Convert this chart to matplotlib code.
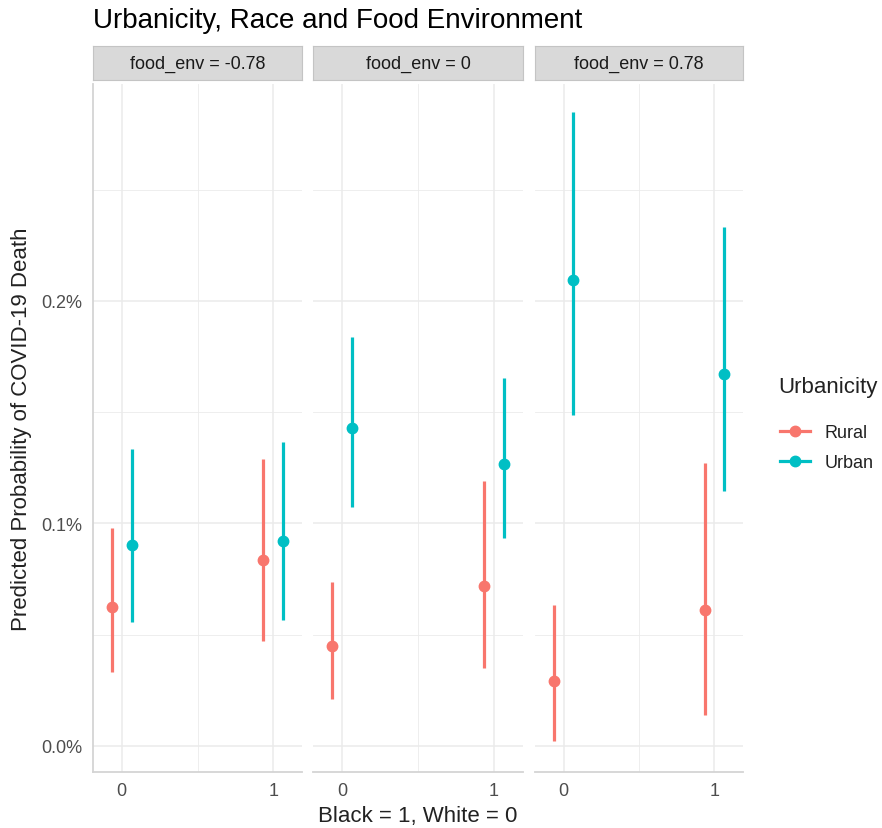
import matplotlib.pyplot as plt
from matplotlib.ticker import FuncFormatter, MultipleLocator
from matplotlib.lines import Line2D

plt.rcParams['font.family'] = ['Liberation Sans', 'DejaVu Sans']

# predicted probability (%) by facet, race (0/1) and urbanicity
facets = ["food_env = -0.78", "food_env = 0", "food_env = 0.78"]
race = [0, 1]
rural_est = [[0.0625, 0.0836], [0.0449, 0.0719], [0.0292, 0.0611]]
rural_lo = [[0.0333, 0.0472], [0.0211, 0.0350], [0.0022, 0.0139]]
rural_hi = [[0.0980, 0.1290], [0.0737, 0.1190], [0.0634, 0.1272]]
urban_est = [[0.0903, 0.0921], [0.1429, 0.1267], [0.2094, 0.1672]]
urban_lo = [[0.0557, 0.0566], [0.1074, 0.0935], [0.1488, 0.1146]]
urban_hi = [[0.1335, 0.1366], [0.1838, 0.1654], [0.2849, 0.2333]]

RURAL = "#F8766D"
URBAN = "#00BFC4"
GRID = "#EBEBEB"
dodge = 0.065

W, H = 882, 829
fig = plt.figure(figsize=(W / 100, H / 100), dpi=100)

panel_x = [(93, 302), (313, 523), (535, 743)]
top, bottom = 85, 773
strip_top, strip_bot = 47, 81

series = [
    (rural_est, rural_lo, rural_hi, RURAL, -dodge),
    (urban_est, urban_lo, urban_hi, URBAN, dodge),
]

for i, (x0, x1) in enumerate(panel_x):
    ax = fig.add_axes([x0 / W, 1 - bottom / H, (x1 - x0) / W, (bottom - top) / H])
    for est, lo, hi, col, off in series:
        xs = [r + off for r in race]
        ax.vlines(xs, lo[i], hi[i], color=col, lw=2.3, zorder=3)
        ax.plot(xs, est[i], 'o', color=col, ms=7.5, zorder=4, ls='none')
    ax.set_xlim(-0.19, 1.19)
    ax.set_ylim(-0.0117, 0.2975)
    ax.set_xticks(race)
    ax.xaxis.set_minor_locator(MultipleLocator(0.5))
    ax.yaxis.set_major_locator(MultipleLocator(0.1))
    ax.yaxis.set_minor_locator(MultipleLocator(0.05))
    ax.yaxis.set_major_formatter(FuncFormatter(lambda v, p: f"{v:.1f}%"))
    ax.grid(which='major', color=GRID, lw=1.1)
    ax.grid(which='minor', color=GRID, lw=0.6)
    ax.set_axisbelow(True)
    for s in ['top', 'right', 'left']:
        ax.spines[s].set_visible(False)
    ax.spines['bottom'].set_color('#D4D4D4')
    ax.spines['bottom'].set_linewidth(1.3)
    ax.tick_params(which='both', length=0, labelsize=13, labelcolor='#4D4D4D', pad=7)
    if i == 0:
        ax.spines['left'].set_visible(True)
        ax.spines['left'].set_color('#D4D4D4')
        ax.spines['left'].set_linewidth(1.3)
        ax.tick_params(axis='y', pad=8)
    else:
        ax.tick_params(axis='y', labelleft=False)

    sax = fig.add_axes([x0 / W, 1 - strip_bot / H, (x1 - x0) / W, (strip_bot - strip_top) / H])
    sax.set_facecolor('#D9D9D9')
    sax.set_xticks([])
    sax.set_yticks([])
    for s in sax.spines.values():
        s.set_color('#C4C4C4')
    sax.text(0.5, 0.5, facets[i], ha='center', va='center', fontsize=13, color='#1A1A1A')

fig.text(93 / W, 1 - 21 / H, "Urbanicity, Race and Food Environment",
         fontsize=20, ha='left', va='center', color='#000000')
fig.text(418 / W, 1 - 817 / H, "Black = 1, White = 0", fontsize=16, ha='center',
         va='center', color='#222222')
fig.text(22 / W, 1 - 429 / H, "Predicted Probability of COVID-19 Death", fontsize=16,
         rotation=90, ha='center', va='center', color='#222222')

fig.text(778 / W, 1 - 388 / H, "Urbanicity", fontsize=16, ha='left', va='center',
         color='#222222')
handles = [Line2D([], [], color=RURAL, lw=2.3, marker='o', ms=7.5),
           Line2D([], [], color=URBAN, lw=2.3, marker='o', ms=7.5)]
leg = fig.legend(handles, ["Rural", "Urban"], loc='center left',
                 bbox_to_anchor=(780 / W, 1 - 449 / H), frameon=False, fontsize=13,
                 handlelength=1.67, handletextpad=0.8, labelspacing=0.72,
                 borderpad=0, borderaxespad=0)
for t in leg.get_texts():
    t.set_color('#222222')

fig.savefig("out.png", dpi=100)
